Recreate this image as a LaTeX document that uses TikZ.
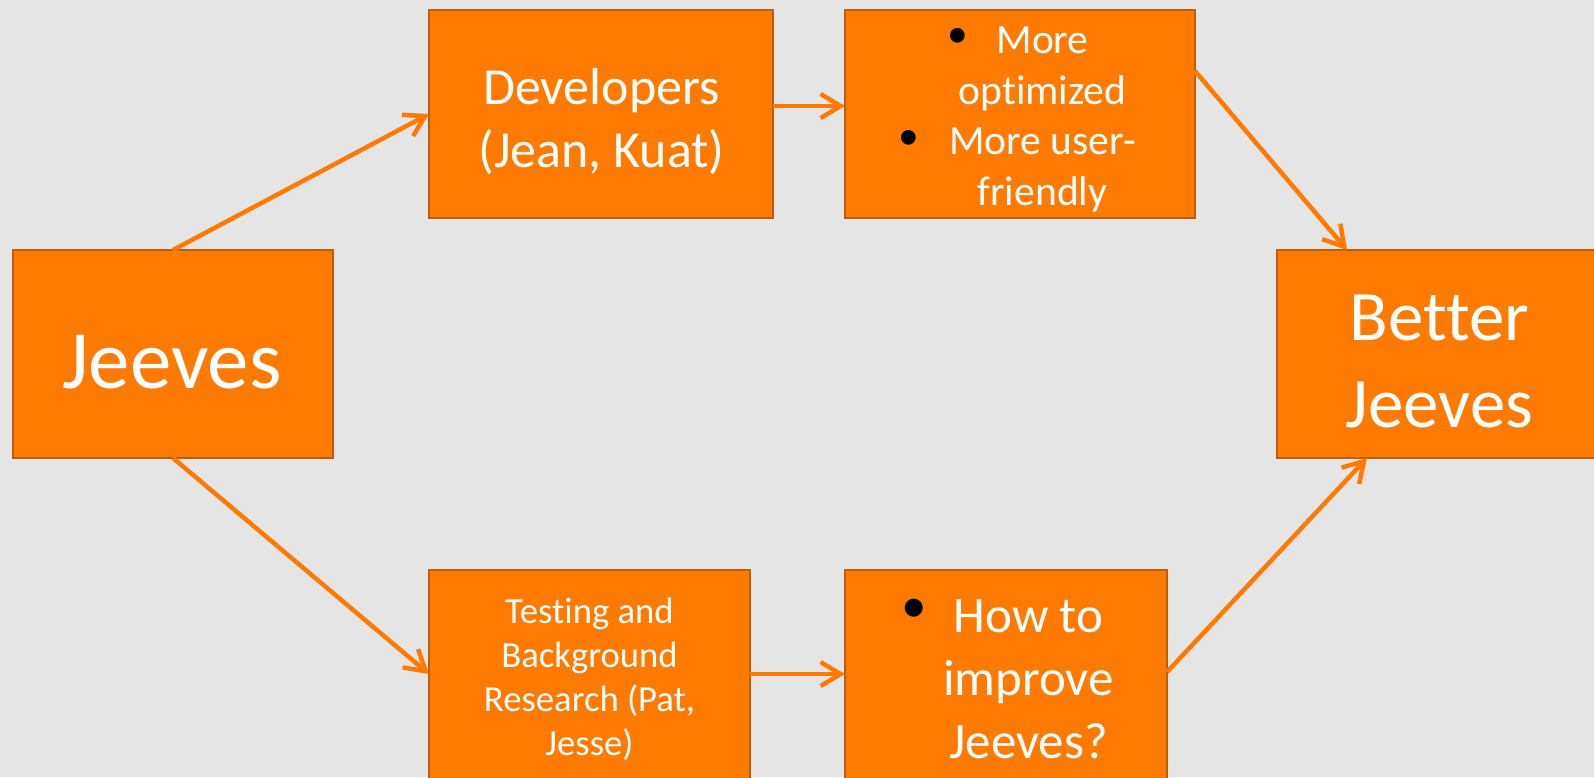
\documentclass[tikz,border=0pt]{standalone}
\usepackage{fontspec}
\setmainfont{Carlito}[Ligatures=NoCommon]
\usetikzlibrary{arrows.meta}
\definecolor{bg}{RGB}{229,229,229}
\definecolor{boxfill}{RGB}{255,122,0}
\definecolor{boxedge}{RGB}{188,94,10}
\definecolor{link}{RGB}{255,122,0}
\begin{document}
\begin{tikzpicture}[x=1pt,y=-1pt,
  box/.style={draw=boxedge, fill=boxfill, line width=2.8pt, minimum height=208pt, inner sep=0pt, outer sep=0pt},
  boxtext/.style={text=white, inner sep=0pt, align=center, anchor=base},
  bulletmark/.style={text=black, inner sep=0pt, anchor=center},
  conn/.style={draw=link, line width=4.5pt, -{Straight Barb[length=20pt,width=24pt]}}]
\useasboundingbox (0,0) rectangle (1594,777);
\clip (0,0) rectangle (1594,777);
\fill[bg] (0,0) rectangle (1594,777);

% boxes
\node[box, minimum width=320pt] (jeeves) at (173,354) {};
\node[box, minimum width=344pt] (dev) at (601,114) {};
\node[box, minimum width=350pt] (opt) at (1020,114) {};
\node[box, minimum width=325pt] (better) at (1439.5,354) {};
\node[box, minimum width=321pt, minimum height=216pt] (test) at (589.5,678) {};
\node[box, minimum width=322pt, minimum height=216pt] (how) at (1006,678) {};

% texts (positioned at the baseline of their last line)
\node[boxtext, font=\fontsize{83}{100}\selectfont] (jeevesT) at (172,388) {Jeeves};
\node[boxtext, font=\fontsize{52}{63}\selectfont] (devT) at (601.5,167) {Developers\\(Jean, Kuat)};
\node[boxtext, font=\fontsize{41.6}{50.5}\selectfont] (optT) at (1042.5,205) {More\\optimized\\More user-\\friendly};
\node[bulletmark, font=\fontsize{41.6}{50.5}\selectfont] (optB1) at (958,38) {•};
\node[bulletmark, font=\fontsize{41.6}{50.5}\selectfont] (optB2) at (909,140) {•};
\node[boxtext, font=\fontsize{71}{87}\selectfont] (betterT) at (1439.5,427) {Better\\Jeeves};
\node[boxtext, font=\fontsize{36.7}{43.7}\selectfont] (testT) at (589.5,755) {Testing and\\Background\\Research (Pat,\\Jesse)};
\node[boxtext, font=\fontsize{51}{63}\selectfont] (howT) at (1028.5,758) {How to\\improve\\Jeeves?};
\node[bulletmark, font=\fontsize{51}{63}\selectfont] (howB) at (914,611) {•};

% connectors
\draw[conn] (jeeves.north) -- (dev.west);
\draw[conn] ([yshift=8pt]dev.east) -- ([yshift=8pt]opt.west);
\draw[conn] ([yshift=43pt]opt.east) -- ([xshift=70pt]better.north west);
\draw[conn] (jeeves.south) -- ([yshift=4pt]test.west);
\draw[conn] ([yshift=4pt]test.east) -- ([yshift=4pt]how.west);
\draw[conn] ([yshift=6pt]how.east) -- ([xshift=90pt]better.south west);
\end{tikzpicture}
\end{document}
